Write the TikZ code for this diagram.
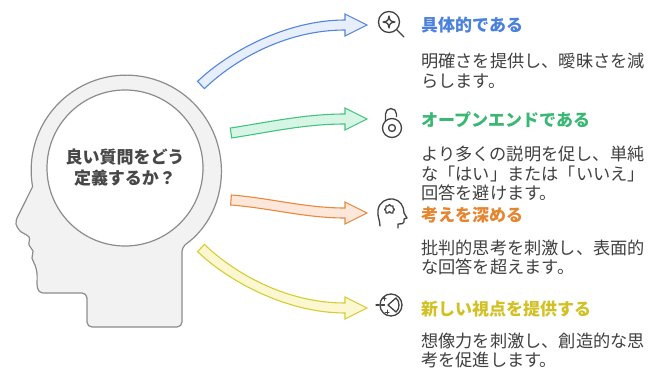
\documentclass[tikz,border=0pt]{standalone}
\usepackage{fontspec}
\setmainfont{Noto Sans CJK JP}
\usetikzlibrary{calc,positioning}

\definecolor{headfill}{HTML}{F2F2F2}
\definecolor{headline}{HTML}{8C8C8C}
\definecolor{qtext}{HTML}{474747}
\definecolor{txt}{HTML}{404040}
\definecolor{icon}{HTML}{424242}
\definecolor{blueT}{HTML}{4A80DE}
\definecolor{greenT}{HTML}{38B873}
\definecolor{orangeT}{HTML}{E5852F}
\definecolor{yellowT}{HTML}{D2C124}
\definecolor{blueL}{HTML}{5485DC}
\definecolor{blueF}{HTML}{E8EFFC}
\definecolor{greenL}{HTML}{42C47E}
\definecolor{greenF}{HTML}{D7F5E5}
\definecolor{orangeL}{HTML}{E8893E}
\definecolor{orangeF}{HTML}{FCE7DA}
\definecolor{yellowL}{HTML}{D6CC34}
\definecolor{yellowF}{HTML}{FBF7D0}

% bent block arrow: style, tail, control 1, control 2, base of the head
\newcommand{\bendarrow}[5]{%
  \draw[#1] ($(#2)!5pt!90:(#3)$) .. controls ($(#3)!5pt!-90:(#2)$) and ($(#4)!5pt!90:(#5)$) .. ($(#5)!5pt!-90:(#4)$)
    -- ($(#5)!11pt!-90:(#4)$) -- ($(#5)!-22pt!(#4)$) -- ($(#5)!11pt!90:(#4)$) -- ($(#5)!5pt!90:(#4)$)
    .. controls ($(#4)!5pt!-90:(#5)$) and ($(#3)!5pt!90:(#2)$) .. ($(#2)!5pt!-90:(#3)$) -- cycle;}

\begin{document}
\begin{tikzpicture}[x=1pt, y=-1pt,
    head/.style={draw=headline, fill=headfill, line width=1.2pt, line join=round},
    arr/.style={line width=1.1pt, line join=miter},
    ico/.style={draw=icon, line width=1.3pt, line cap=round, line join=round},
    ttl/.style={anchor=west, inner sep=0pt, font=\fontsize{17pt}{20pt}\selectfont\bfseries},
    desc/.style={anchor=north west, inner sep=0pt, align=left, text=txt,
                 font=\fontsize{17.2pt}{19.5pt}\selectfont}
]
\fill[white] (0,0) rectangle (662,369);
\useasboundingbox (0,0) rectangle (662,369);

% head outline
\draw[head] (182,247) arc[start angle=54, end angle=-190, radius=95]
  -- plot[smooth, tension=0.55] coordinates {(17,218) (16,224) (20,231) (29,237) (29,245)
       (33,251) (32,258) (35,265) (37,273) (37,284)}
  [rounded corners=5pt] -- (38,293) -- (87,293) -- (87,327) -- (182,327) -- cycle;

\node[circle, draw=headline, fill=white, line width=1.2pt, minimum size=156pt, inner sep=0pt,
      align=center, text=qtext, font=\fontsize{17pt}{21pt}\selectfont\bfseries] (q) at (125,168)
      {良い質問をどう\\定義するか？};

% arrow paths
\coordinate (a1s) at (201,85);  \coordinate (a1c) at (230,57);
\coordinate (a1d) at (285,25);  \coordinate (a1e) at (345,25);
\coordinate (a2s) at (231,133); \coordinate (a2c) at (270,127);
\coordinate (a2d) at (305,119); \coordinate (a2e) at (345,119);
\coordinate (a3s) at (231,200); \coordinate (a3c) at (270,203);
\coordinate (a3d) at (305,213); \coordinate (a3e) at (345,213);
\coordinate (a4s) at (201,248); \coordinate (a4c) at (230,276);
\coordinate (a4d) at (285,308); \coordinate (a4e) at (345,308);

\bendarrow{arr, draw=blueL, fill=blueF}{a1s}{a1c}{a1d}{a1e}
\bendarrow{arr, draw=greenL, fill=greenF}{a2s}{a2c}{a2d}{a2e}
\bendarrow{arr, draw=orangeL, fill=orangeF}{a3s}{a3c}{a3d}{a3e}
\bendarrow{arr, draw=yellowL, fill=yellowF}{a4s}{a4c}{a4d}{a4e}

% icons
\coordinate (i1) at (389,22);
\coordinate (i2) at (392,128);
\coordinate (i3) at (392,212);
\coordinate (i4) at (391,305);

\begin{scope}[shift={(i1)}]
  \draw[ico] (0,0) circle[radius=10.5];
  \draw[ico] (7.6,7.6) -- (15,15);
  \draw[ico] (0,-6) .. controls (1,-1) .. (6,0) .. controls (1,1) .. (0,6)
    .. controls (-1,1) .. (-6,0) .. controls (-1,-1) .. (0,-6) -- cycle;
\end{scope}

\begin{scope}[shift={(i2)}]
  \draw[ico] (0,0) circle[radius=9.5];
  \draw[ico] (0,0) circle[radius=3.5];
  \draw[ico] (-6.5,-7) -- (-6.5,-14) arc[start angle=180, end angle=360, radius=5.5] -- (4.5,-11.5);
\end{scope}

\begin{scope}[shift={(i3)}]
  \draw[ico] (-12,14) .. controls (-12,8) and (-15,4) .. (-14,-2)
    .. controls (-13,-10) and (-5,-14) .. (1,-13) .. controls (8,-12) and (12,-6) .. (12,1)
    -- (15,6) -- (12,7) -- (12,10) .. controls (12,12) and (9,12) .. (6,12) -- (6,16);
  \draw[ico, line width=1.1pt] (-6,-6) -- (-4,-6) arc[start angle=180, end angle=360, radius=1.5]
    -- (1,-6) -- (1,-4) arc[start angle=-90, end angle=90, radius=1.5] -- (1,1) -- (-1,1)
    arc[start angle=0, end angle=-180, radius=1.5] -- (-6,1) -- (-6,-1)
    arc[start angle=90, end angle=270, radius=1.5] -- cycle;
\end{scope}

\begin{scope}[shift={(i4)}]
  \draw[ico] (0,0) circle[radius=11];
  \draw[ico, dash pattern=on 3pt off 2.5pt] (-15,0) -- (-5,0);
  \draw[ico] (-3,0) -- (5,-7) .. controls (9,-4) and (9,4) .. (5,7) -- cycle;
  \draw[ico, line width=1pt] (-7,-8.5) -- (-7,-4.5) (-9,-6.5) -- (-5,-6.5);
  \draw[ico, line width=1pt] (-4,5) -- (-4,9) (-6,7) -- (-2,7);
\end{scope}

% titles and descriptions
\node[ttl, text=blueT] (t1) at (421,25) {具体的である};
\node[desc] (d1) at (421,53) {明確さを提供し、曖昧さを減\\らします。};
\node[ttl, text=greenT] (t2) at (421,120) {オープンエンドである};
\node[desc] (d2) at (421,146) {より多くの説明を促し、単純\\な「はい」または「いいえ」\\回答を避けます。};
\node[ttl, text=orangeT] (t3) at (421,215) {考えを深める};
\node[desc] (d3) at (421,239.5) {批判的思考を刺激し、表面的\\な回答を超えます。};
\node[ttl, text=yellowT] (t4) at (421,309) {新しい視点を提供する};
\node[desc] (d4) at (421,332.5) {想像力を刺激し、創造的な思\\考を促進します。};
\end{tikzpicture}
\end{document}
